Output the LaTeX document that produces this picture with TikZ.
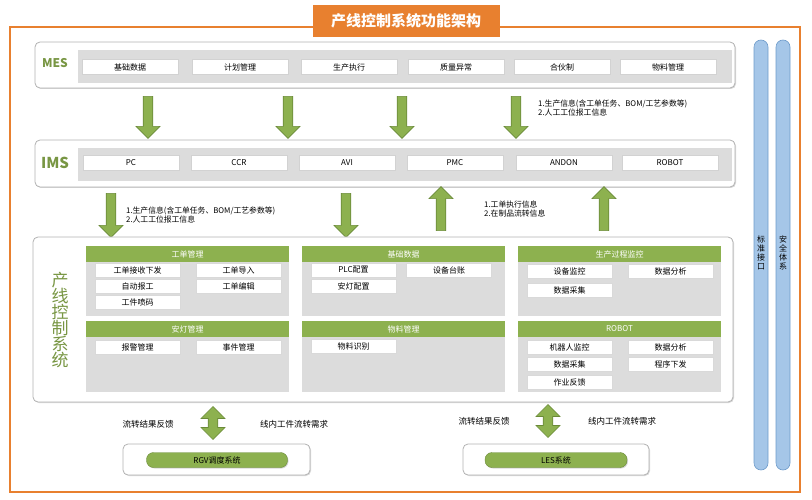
\documentclass[tikz,border=0pt]{standalone}
\usepackage{fontspec}
\setmainfont{Noto Sans CJK SC}
\usetikzlibrary{shapes.arrows,shadows}
\definecolor{org}{HTML}{E8802F}
\definecolor{grn}{HTML}{8DB14F}
\definecolor{dgrn}{HTML}{6A8A38}
\definecolor{gry}{HTML}{DCDCDC}
\definecolor{blu}{HTML}{A5C6E8}
\definecolor{dblu}{HTML}{6F9CCB}
\tikzset{
 layer/.style={draw=gray!60,fill=white,rounded corners=5pt,line width=0.8pt,drop shadow={shadow xshift=1pt,shadow yshift=-1pt,opacity=0.3}},
 strip/.style={fill=gry,draw=none},
 item/.style={fill=white,draw=gray!35,minimum width=96pt,minimum height=15pt,inner sep=0pt,font=\fontsize{8}{9}\selectfont},
 sitem/.style={fill=white,draw=gray!30,minimum width=85pt,minimum height=14pt,inner sep=0pt,font=\fontsize{8}{9}\selectfont},
 hdr/.style={fill=grn,draw=none,minimum width=203pt,minimum height=16pt,inner sep=0pt,text=white,font=\fontsize{8}{9}\selectfont},
 darr/.style={single arrow,fill=grn,draw=dgrn,line width=0.6pt,minimum width=24pt,single arrow head extend=5pt,single arrow head indent=0pt,inner sep=3pt,shape border rotate=270},
 uarr/.style={darr,shape border rotate=90},
 barr/.style={double arrow,fill=grn,draw=dgrn,line width=0.6pt,minimum width=24pt,double arrow head extend=5pt,inner sep=3pt,shape border rotate=90},
 note/.style={font=\fontsize{7.8}{9}\selectfont,align=left,anchor=west,inner sep=0pt},
 lbl/.style={text=grn!85!black,font=\bfseries},
 pill/.style={fill=grn,draw=dgrn,rounded corners=7pt,minimum height=15pt,inner sep=0pt,font=\fontsize{8}{9}\selectfont,drop shadow={shadow xshift=1pt,shadow yshift=-1pt,opacity=0.3}},
 vbar/.style={fill=blu,draw=dblu,rounded corners=7pt,line width=0.6pt},
 vtext/.style={font=\fontsize{8}{9}\selectfont,align=center,inner sep=0pt,anchor=north}
}
\begin{document}
\begin{tikzpicture}[x=1pt,y=-1pt]
\useasboundingbox (0,0) rectangle (812,500);
\draw[org,line width=1.8pt] (10,27) rectangle (800,492);
\node[fill=org,minimum width=187pt,minimum height=32pt,text=white,font=\fontsize{15}{17}\bfseries\selectfont,inner sep=0pt] (title) at (406,21) {产线控制系统功能架构};
\draw[vbar] (754,40) rectangle (768,470);
\draw[vbar] (776,40) rectangle (790,470);
\node[vtext] (std) at (761,236) {标\\准\\接\\口};
\node[vtext] (sec) at (783,236) {安\\全\\体\\系};
% MES
\draw[layer] (35,42) rectangle (735,88);
\fill[strip] (78,50) rectangle (732,83);
\node[lbl,font=\fontsize{12}{14}\bfseries\selectfont] (mes) at (55,63) {MES};
\foreach \n/\x/\t in {m1/130/基础数据,m2/240/计划管理,m3/349/生产执行,m4/456/质量异常,m5/562/合伙制,m6/668/物料管理}
  \node[item] (\n) at (\x,67) {\t};
% IMS
\draw[layer] (35,140) rectangle (735,187);
\fill[strip] (78,148) rectangle (732,181);
\node[lbl,font=\fontsize{15}{17}\bfseries\selectfont] (ims) at (55,163) {IMS};
\foreach \n/\x/\t in {i1/131/PC,i2/239/CCR,i3/347/AVI,i4/455/PMC,i5/564/ANDON,i6/670/ROBOT}
  \node[item] (\n) at (\x,163) {\t};
\foreach \n/\x in {a1/148,a2/288,a3/402,a4/516}
  \node[darr,minimum height=42pt] (\n) at (\x,115) {};
\node[note] (t1) at (538,108) {1.生产信息(含工单任务、BOM/工艺参数等)\\2.人工工位报工信息};
\node[darr,minimum height=44pt] (b1) at (111,213) {};
\node[darr,minimum height=44pt] (b2) at (346,213) {};
\node[uarr,minimum height=44pt] (b3) at (441,211) {};
\node[uarr,minimum height=44pt] (b4) at (604,211) {};
\node[note] (t2) at (126,215) {1.生产信息(含工单任务、BOM/工艺参数等)\\2.人工工位报工信息};
\node[note] (t3) at (484,209) {1.工单执行信息\\2.在制品流转信息};
% bottom layer
\draw[layer] (33,237) rectangle (733,402);
\node[lbl,vtext,font=\fontsize{17}{16}\selectfont] (plc) at (60,272) {产\\线\\控\\制\\系\\统};
\foreach \cx/\a/\b in {187.5/工单管理/安灯管理,403.5/基础数据/物料管理,619.5/生产过程监控/ROBOT}{
  \fill[gry] (\cx-101.5,246) rectangle (\cx+101.5,316);
  \fill[gry] (\cx-101.5,321) rectangle (\cx+101.5,392);
  \node[hdr] at (\cx,254) {\a};
  \node[hdr] at (\cx,329) {\b};
}
\node[sitem] (g1) at (137.5,270) {工单接收下发};
\node[sitem] (g2) at (238.5,270) {工单导入};
\node[sitem] (g3) at (137.5,286) {自动报工};
\node[sitem] (g4) at (238.5,286) {工单编辑};
\node[sitem] (g5) at (137.5,302.5) {工件喷码};
\node[sitem] (g6) at (137.5,347.5) {报警管理};
\node[sitem] (g7) at (238.5,347.5) {事件管理};
\node[sitem] (j1) at (353.5,270) {PLC配置};
\node[sitem] (j2) at (449,270) {设备台账};
\node[sitem] (j3) at (353.5,286) {安灯配置};
\node[sitem] (j4) at (353.5,346) {物料识别};
\node[sitem] (s1) at (569.5,271) {设备监控};
\node[sitem] (s2) at (670.5,271) {数据分析};
\node[sitem] (s3) at (569.5,290.5) {数据采集};
\node[sitem] (r1) at (569.5,347) {机器人监控};
\node[sitem] (r2) at (670.5,347) {数据分析};
\node[sitem] (r3) at (569.5,364.5) {数据采集};
\node[sitem] (r4) at (670.5,364.5) {程序下发};
\node[sitem] (r5) at (569.5,382) {作业反馈};
\node[barr,minimum height=33pt] (d1) at (213,423) {};
\node[barr,minimum height=33pt] (d2) at (548,421) {};
\node[font=\fontsize{8.5}{10}\selectfont] (f1) at (148,424) {流转结果反馈};
\node[font=\fontsize{8.5}{10}\selectfont] (f2) at (294,424) {线内工件流转需求};
\node[font=\fontsize{8.5}{10}\selectfont] (f3) at (484,421) {流转结果反馈};
\node[font=\fontsize{8.5}{10}\selectfont] (f4) at (622,421) {线内工件流转需求};
\draw[layer] (123,444) rectangle (310,475);
\node[pill,minimum width=141pt] (rgv) at (217,460) {RGV调度系统};
\draw[layer] (463,444) rectangle (649,475);
\node[pill,minimum width=142pt] (les) at (556,460) {LES系统};
\end{tikzpicture}
\end{document}
